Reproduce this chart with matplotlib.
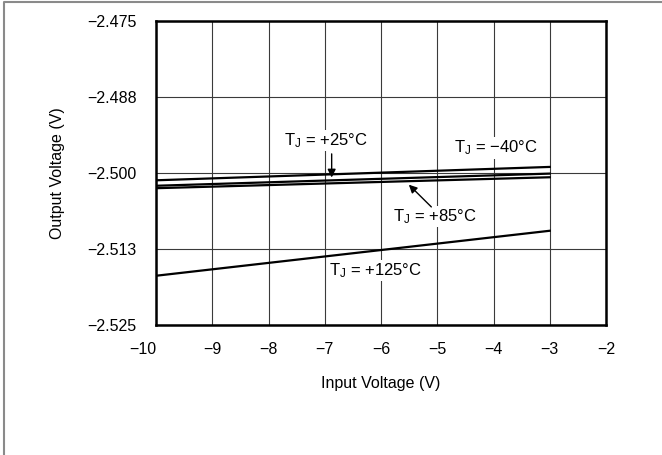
import numpy as np
import matplotlib.pyplot as plt
import matplotlib.transforms as mtransforms
from matplotlib.lines import Line2D

plt.rcParams['font.family'] = ['Liberation Sans', 'DejaVu Sans']
plt.rcParams['mathtext.default'] = 'regular'

# input voltage (V), end points of each curve
vin = [-10, -3]
# output voltage (V) for each junction temperature
vout_m40 = [-2.5012, -2.4990]
vout_25 = [-2.5021, -2.5001]
vout_85 = [-2.5025, -2.5007]
vout_125 = [-2.5169, -2.5095]

xticks = [-10, -9, -8, -7, -6, -5, -4, -3, -2]
xlabels = ['\u221210', '\u22129', '\u22128', '\u22127', '\u22126', '\u22125', '\u22124', '\u22123', '\u22122']
yticks = [-2.525, -2.5125, -2.5, -2.4875, -2.475]
ylabels = ['\u22122.525', '\u22122.513', '\u22122.500', '\u22122.488', '\u22122.475']

fig = plt.figure(figsize=(6.62, 4.55), dpi=100)
ax = fig.add_axes([156/662, 1-325/455, 450/662, 304/455])

ax.plot(vin, vout_m40, '-', color='black', lw=1.6, zorder=3)
ax.plot(vin, vout_25, '-', color='black', lw=1.6, zorder=3)
ax.plot(vin, vout_85, '-', color='black', lw=1.6, zorder=3)
ax.plot(vin, vout_125, '-', color='black', lw=1.6, zorder=3)

ax.set_xlim(-10, -2)
ax.set_ylim(-2.525, -2.475)
ax.set_xticks(xticks)
ax.set_xticklabels(xlabels)
ax.set_yticks(yticks)
ax.set_yticklabels(ylabels)
# first x label sits left of the corner
lab0 = ax.get_xticklabels()[0]
lab0.set_horizontalalignment('right')
lab0.set_transform(lab0.get_transform() + mtransforms.ScaledTranslation(-4/72, 0, fig.dpi_scale_trans))
ax.tick_params(axis='x', length=0, pad=12, labelsize=11.5)
ax.tick_params(axis='y', length=0, pad=14, labelsize=11.5)
ax.grid(True, color='#3a3a3a', lw=0.8)
ax.set_axisbelow(True)
for s in ax.spines.values():
	s.set_linewidth(1.8)
	s.set_color('black')

ax.set_xlabel('Input Voltage (V)', fontsize=11.5, labelpad=14)
ax.set_ylabel('Output Voltage (V)', fontsize=11.5, labelpad=16)

box = dict(facecolor='white', edgecolor='none', pad=1)
ax.text(-6.98, -2.4947, 'T$_J$ = +25\u00b0C', fontsize=12, ha='center', va='center', bbox=box, zorder=4)
ax.text(-3.96, -2.4959, 'T$_J$ = \u221240\u00b0C', fontsize=12, ha='center', va='center', bbox=box, zorder=4)
ax.text(-5.04, -2.5072, 'T$_J$ = +85\u00b0C', fontsize=12, ha='center', va='center', bbox=box, zorder=4)
ax.text(-6.09, -2.5160, 'T$_J$ = +125\u00b0C', fontsize=12, ha='center', va='center', bbox=box, zorder=4)

arrow = dict(arrowstyle='-|>', color='black', lw=1.0, mutation_scale=12)
ax.annotate('', xy=(-6.877, -2.5012), xytext=(-6.877, -2.4964), arrowprops=arrow, zorder=5)
ax.annotate('', xy=(-5.54, -2.5016), xytext=(-5.07, -2.5059), arrowprops=arrow, zorder=5)

# frame around the figure (only top and left show)
fig.add_artist(Line2D([4/662, 4/662, 1.0], [0.0, 1-2/455, 1-2/455], transform=fig.transFigure,
	color='#8a8a8a', lw=1.5))

plt.savefig('out.png', dpi=100)
